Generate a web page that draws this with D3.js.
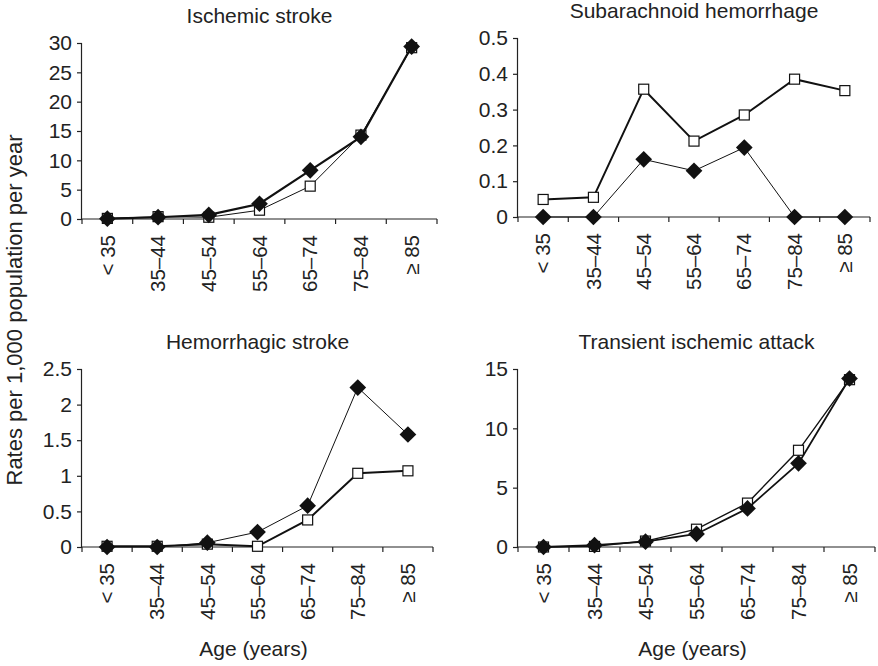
<!doctype html>
<meta charset='utf-8'>
<body style='margin:0;background:#fff'>
<script src='https://cdn.jsdelivr.net/npm/d3@7'></script>
<script>

var ageGroups = ['< 35', '35\u201344', '45\u201354', '55\u201364', '65\u201374', '75\u201384', '\u2265 85'];

var panelTitles = ['Ischemic stroke', 'Subarachnoid hemorrhage', 'Hemorrhagic stroke', 'Transient ischemic attack'];
var yMax = [30, 0.5, 2.5, 15];
var yTicks = [
  [0, 5, 10, 15, 20, 25, 30],
  [0, 0.1, 0.2, 0.3, 0.4, 0.5],
  [0, 0.5, 1, 1.5, 2, 2.5],
  [0, 5, 10, 15]
];

// filled diamonds
var diamondRates = [
  [0.05, 0.3, 0.7, 2.6, 8.3, 14.0, 29.4],
  [0, 0, 0.161, 0.129, 0.194, 0, 0],
  [0.0, 0.0, 0.06, 0.21, 0.58, 2.24, 1.58],
  [0.0, 0.15, 0.45, 1.1, 3.25, 7.05, 14.2]
];
// open squares
var squareRates = [
  [0.1, 0.4, 0.3, 1.5, 5.6, 14.3, 29.2],
  [0.049, 0.055, 0.357, 0.212, 0.285, 0.385, 0.353],
  [0.01, 0.01, 0.04, 0.01, 0.38, 1.035, 1.07],
  [0.0, 0.05, 0.5, 1.5, 3.7, 8.15, 14.1]
];

// layout of each panel (pixels)
var boxes = [
  {x0: 82, x1: 437, yTop: 43, yBot: 219, dW: 2.2, sW: 1},
  {x0: 518, x1: 870, yTop: 38, yBot: 217, dW: 1, sW: 2},
  {x0: 82, x1: 433, yTop: 369, yBot: 547, dW: 1, sW: 2},
  {x0: 518, x1: 875, yTop: 369, yBot: 547, dW: 1.8, sW: 1.4}
];

var W = 878, H = 666;
var font = 'Arial, "Liberation Sans", Helvetica, sans-serif';
var ink = '#222';

var svg = d3.select('body').append('svg')
  .attr('width', W).attr('height', H)
  .style('font-family', font);

boxes.forEach(function(b, i) {
  var x = d3.scaleBand().domain(ageGroups).range([b.x0, b.x1]);
  var y = d3.scaleLinear().domain([0, yMax[i]]).range([b.yBot, b.yTop]);
  var g = svg.append('g');

  var yAxis = g.append('g')
    .attr('transform', 'translate(' + b.x0 + ',0)')
    .call(d3.axisLeft(y).tickValues(yTicks[i]).tickSize(5).tickPadding(5).tickFormat(d3.format('')));
  var xAxis = g.append('g')
    .attr('transform', 'translate(0,' + b.yBot + ')')
    .call(d3.axisBottom(x).tickSize(0).tickFormat(''));

  // ticks between the categories
  xAxis.selectAll('.tick').remove();
  xAxis.selectAll('.sep')
    .data(d3.range(ageGroups.length + 1))
    .enter().append('line')
    .attr('x1', function(k) { return b.x0 + k * x.step(); })
    .attr('x2', function(k) { return b.x0 + k * x.step(); })
    .attr('y1', 0).attr('y2', 5)
    .attr('stroke', ink).attr('stroke-width', 1.2);

  g.selectAll('.domain').attr('stroke', ink).attr('stroke-width', 1.2);
  yAxis.selectAll('.tick line').attr('stroke', ink).attr('stroke-width', 1.2);
  yAxis.selectAll('.tick text').attr('fill', ink).style('font-size', '21px').style('font-family', font);
  yAxis.select('.domain').attr('d', 'M-0.5,' + b.yTop + 'V' + b.yBot);
  xAxis.select('.domain').attr('d', 'M' + b.x0 + ',0H' + b.x1);

  // rotated category labels
  g.selectAll('.cat')
    .data(ageGroups)
    .enter().append('text')
    .attr('transform', function(d) { return 'translate(' + (x(d) + x.bandwidth() / 2) + ',' + (b.yBot + 16) + ') rotate(-90)'; })
    .attr('text-anchor', 'end')
    .attr('dy', '0.35em')
    .attr('fill', ink)
    .style('font-size', '20.5px')
    .text(function(d) { return d; });

  // title
  g.append('text')
    .attr('x', (b.x0 + b.x1) / 2)
    .attr('y', b.yTop - 20)
    .attr('text-anchor', 'middle')
    .attr('fill', ink)
    .style('font-size', '21px')
    .text(panelTitles[i]);

  var cx = function(d, k) { return x(ageGroups[k]) + x.bandwidth() / 2; };
  var line = d3.line().x(cx).y(function(d) { return y(d); });

  // open squares
  g.append('path').datum(squareRates[i])
    .attr('d', line).attr('fill', 'none').attr('stroke', '#111').attr('stroke-width', b.sW);
  g.selectAll('.sq').data(squareRates[i]).enter().append('rect')
    .attr('x', function(d, k) { return cx(d, k) - 5; })
    .attr('y', function(d) { return y(d) - 5; })
    .attr('width', 10).attr('height', 10)
    .attr('fill', '#fff').attr('stroke', '#111').attr('stroke-width', 1.2);

  // filled diamonds
  g.append('path').datum(diamondRates[i])
    .attr('d', line).attr('fill', 'none').attr('stroke', '#111').attr('stroke-width', b.dW);
  g.selectAll('.dm').data(diamondRates[i]).enter().append('path')
    .attr('transform', function(d, k) { return 'translate(' + cx(d, k) + ',' + y(d) + ') rotate(45)'; })
    .attr('d', d3.symbol().type(d3.symbolSquare).size(140))
    .attr('fill', '#111');
});

// shared axis titles
svg.append('text')
  .attr('transform', 'translate(22,310) rotate(-90)')
  .attr('text-anchor', 'middle')
  .attr('fill', ink)
  .style('font-size', '22px')
  .text('Rates per 1,000 population per year');

[2, 3].forEach(function(i) {
  svg.append('text')
    .attr('x', (boxes[i].x0 + boxes[i].x1) / 2 - 4)
    .attr('y', 656)
    .attr('text-anchor', 'middle')
    .attr('fill', ink)
    .style('font-size', '21px')
    .text('Age (years)');
});

</script>
